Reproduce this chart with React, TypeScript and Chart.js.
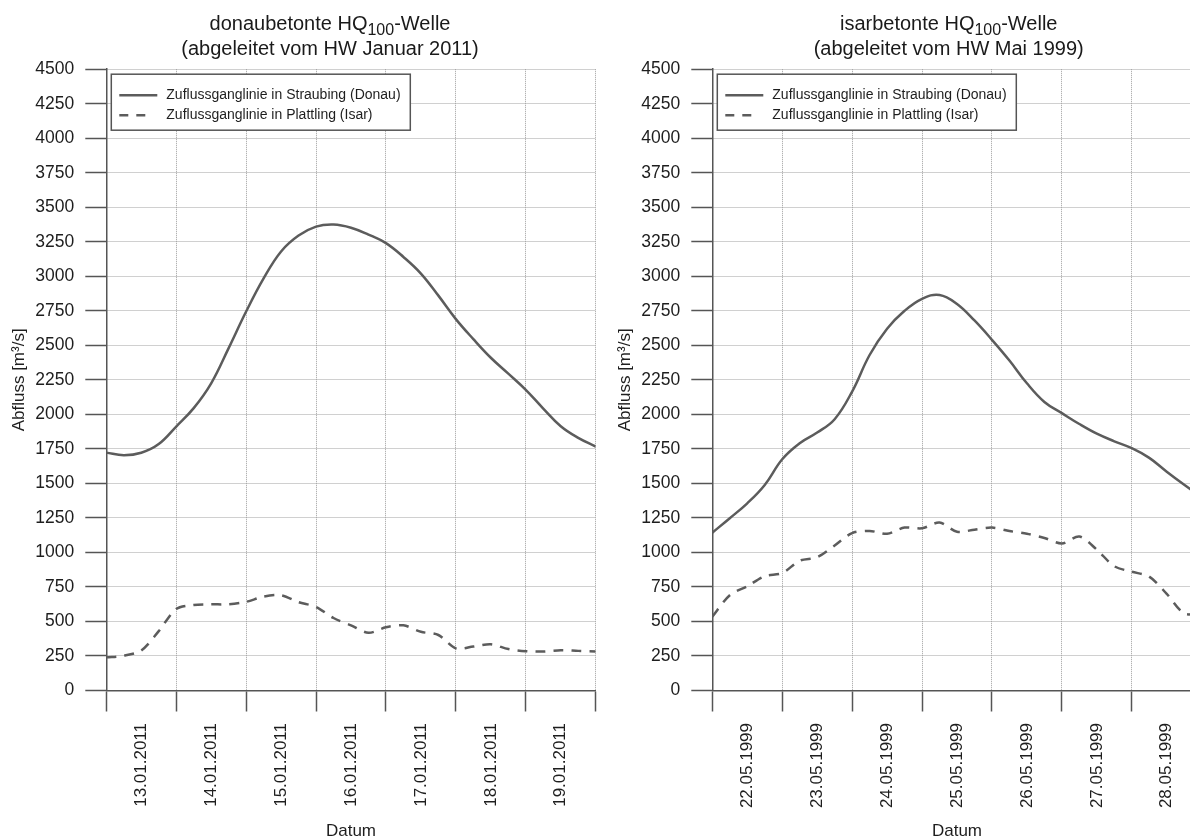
import React, { useEffect, useRef } from "react";
import { Chart, registerables } from "chart.js";

Chart.register(...registerables);

const FONT = '"Liberation Sans", Arial, Helvetica, sans-serif';
Chart.defaults.font.family = FONT;
Chart.defaults.color = "#1e1e1e";

// hours since start of first displayed day
const hours = [0, 6, 12, 18, 24, 30, 36, 42, 48, 54, 60, 66, 72, 78, 84, 90, 96, 102, 108, 114, 120, 126, 132, 138, 144, 150, 156, 162, 168];

const janDays = ["13.01.2011", "14.01.2011", "15.01.2011", "16.01.2011", "17.01.2011", "18.01.2011", "19.01.2011"];
const mayDays = ["22.05.1999", "23.05.1999", "24.05.1999", "25.05.1999", "26.05.1999", "27.05.1999", "28.05.1999"];

const janStraubing = [1723, 1704, 1722, 1785, 1912, 2045, 2225, 2480, 2745, 2985, 3180, 3295, 3360, 3375, 3352, 3302, 3240, 3140, 3020, 2860, 2690, 2545, 2410, 2295, 2178, 2042, 1914, 1830, 1767];
const janPlattling = [240, 252, 290, 430, 590, 620, 624, 625, 642, 680, 690, 640, 605, 525, 472, 418, 458, 472, 425, 402, 305, 318, 335, 300, 285, 282, 292, 287, 283];

const mayStraubing = [1143, 1248, 1356, 1489, 1675, 1791, 1868, 1965, 2165, 2430, 2620, 2750, 2837, 2865, 2800, 2680, 2540, 2390, 2225, 2090, 2009, 1930, 1860, 1805, 1755, 1685, 1585, 1490, 1400];
const mayPlattling = [535, 690, 755, 828, 850, 940, 965, 1050, 1140, 1156, 1135, 1180, 1175, 1216, 1150, 1165, 1180, 1155, 1135, 1105, 1065, 1115, 1020, 900, 860, 825, 700, 558, 560];

const seriesLabels = ["Zuflussganglinie in Straubing (Donau)", "Zuflussganglinie in Plattling (Isar)"];
const titleJan = { pre: "donaubetonte HQ", sub: "100", post: "-Welle", line2: "(abgeleitet vom HW Januar 2011)" };
const titleMay = { pre: "isarbetonte HQ", sub: "100", post: "-Welle", line2: "(abgeleitet vom HW Mai 1999)" };

const LINE_COLOR = "#5c5c5c";
const AXIS_COLOR = "#555555";
const GRID_COLOR = "#a0a0a0";

const boxLegend = {
  id: "boxLegend",
  afterDatasetsDraw(chart: any) {
    const { ctx, chartArea } = chart;
    const x = chartArea.left + 5;
    const y = chartArea.top + 5;
    const w = 299;
    const h = 56;
    ctx.save();
    ctx.fillStyle = "#ffffff";
    ctx.fillRect(x, y, w, h);
    ctx.strokeStyle = AXIS_COLOR;
    ctx.lineWidth = 1.5;
    ctx.setLineDash([]);
    ctx.strokeRect(x, y, w, h);
    chart.data.datasets.forEach((ds: any, i: number) => {
      const ry = y + 21 + i * 20;
      ctx.strokeStyle = ds.borderColor;
      ctx.lineWidth = ds.borderWidth;
      ctx.setLineDash(ds.borderDash ? [9, 8] : []);
      ctx.beginPath();
      ctx.moveTo(x + 8, ry);
      ctx.lineTo(x + (ds.borderDash ? 36 : 46), ry);
      ctx.stroke();
      ctx.setLineDash([]);
      ctx.fillStyle = "#1e1e1e";
      ctx.font = `14px ${FONT}`;
      ctx.textBaseline = "middle";
      ctx.textAlign = "left";
      ctx.fillText(ds.label, x + 55, ry);
    });
    ctx.restore();
  },
};

const subTitle = {
  id: "subTitle",
  afterDraw(chart: any, _args: any, opts: any) {
    const { ctx } = chart;
    const big = `20px ${FONT}`;
    const small = `16px ${FONT}`;
    ctx.save();
    ctx.fillStyle = "#1a1a1a";
    ctx.textBaseline = "alphabetic";
    ctx.textAlign = "left";
    ctx.font = big;
    const w1 = ctx.measureText(opts.pre).width;
    const w3 = ctx.measureText(opts.post).width;
    ctx.font = small;
    const w2 = ctx.measureText(opts.sub).width;
    let x = opts.cx - (w1 + w2 + w3) / 2;
    ctx.font = big;
    ctx.fillText(opts.pre, x, opts.y1);
    x += w1;
    ctx.font = small;
    ctx.fillText(opts.sub, x, opts.y1 + 5);
    x += w2;
    ctx.font = big;
    ctx.fillText(opts.post, x, opts.y1);
    ctx.textAlign = "center";
    ctx.fillText(opts.line2, opts.cx, opts.y2);
    ctx.restore();
  },
};

function makeConfig(dayLabels: string[], st: number[], pl: number[], title: any, cx: number): any {
  const gridCommon = {
    color: GRID_COLOR,
    lineWidth: 1,
    tickLength: 21,
    tickColor: AXIS_COLOR,
    tickWidth: 1.5,
    tickBorderDash: [],
  };
  const borderCommon = { display: true, color: AXIS_COLOR, width: 1.5, dash: [1, 1] };
  return {
    type: "line",
    data: {
      datasets: [
        {
          label: seriesLabels[0],
          data: hours.map((h, i) => ({ x: h, y: st[i] })),
          borderColor: LINE_COLOR,
          borderWidth: 2.5,
          tension: 0.4,
          pointRadius: 0,
          fill: false,
        },
        {
          label: seriesLabels[1],
          data: hours.map((h, i) => ({ x: h, y: pl[i] })),
          borderColor: LINE_COLOR,
          borderWidth: 2.5,
          borderDash: [10, 8],
          tension: 0.3,
          pointRadius: 0,
          fill: false,
        },
      ],
    },
    options: {
      responsive: false,
      animation: false,
      events: [],
      layout: { padding: { top: 69.2, right: 84.3, left: 0, bottom: 0 } },
      plugins: {
        legend: { display: false },
        title: { display: false },
        tooltip: { enabled: false },
        subTitle: { ...title, cx, y1: 30, y2: 55 },
      },
      scales: {
        x: {
          type: "linear",
          min: 0,
          max: 168,
          afterBuildTicks: (s: any) => {
            s.ticks = dayLabels.map((_, i) => ({ value: 12 + 24 * i }));
          },
          afterFit: (s: any) => {
            s.height = 159.5;
          },
          ticks: {
            autoSkip: false,
            maxRotation: 90,
            minRotation: 90,
            padding: 11.5,
            font: { size: 17 },
            callback: (_v: any, i: number) => dayLabels[i],
          },
          grid: { ...gridCommon, offset: true },
          border: borderCommon,
          title: { display: true, text: "Datum", font: { size: 17 }, padding: { top: 0, bottom: 8.8 } },
        },
        y: {
          type: "linear",
          min: 0,
          max: 4500,
          afterFit: (s: any) => {
            s.width = 106.3;
          },
          ticks: {
            stepSize: 250,
            padding: 11,
            font: { size: 17.5 },
            callback: (v: any) => String(v),
          },
          grid: gridCommon,
          border: borderCommon,
          title: { display: true, text: "Abfluss [m³/s]", font: { size: 17 }, padding: { top: 9, bottom: 0 } },
        },
      },
    },
    plugins: [boxLegend, subTitle],
  };
}

function Panel(props: { left: number; dayLabels: string[]; st: number[]; pl: number[]; title: any; cx: number }) {
  const ref = useRef<HTMLCanvasElement>(null);
  useEffect(() => {
    const chart = new Chart(ref.current as HTMLCanvasElement, makeConfig(props.dayLabels, props.st, props.pl, props.title, props.cx));
    return () => chart.destroy();
  }, []);
  return (
    <canvas
      ref={ref}
      width={680}
      height={850}
      style={{ position: "absolute", left: props.left, top: 0, width: 680, height: 850 }}
    />
  );
}

export default function App() {
  return (
    <div
      style={{
        position: "fixed",
        left: 0,
        top: 0,
        width: 1190,
        height: 837,
        overflow: "hidden",
        background: "#ffffff",
      }}
    >
      <Panel left={0} dayLabels={janDays} st={janStraubing} pl={janPlattling} title={titleJan} cx={330} />
      <Panel left={606.3} dayLabels={mayDays} st={mayStraubing} pl={mayPlattling} title={titleMay} cx={342.7} />
    </div>
  );
}
